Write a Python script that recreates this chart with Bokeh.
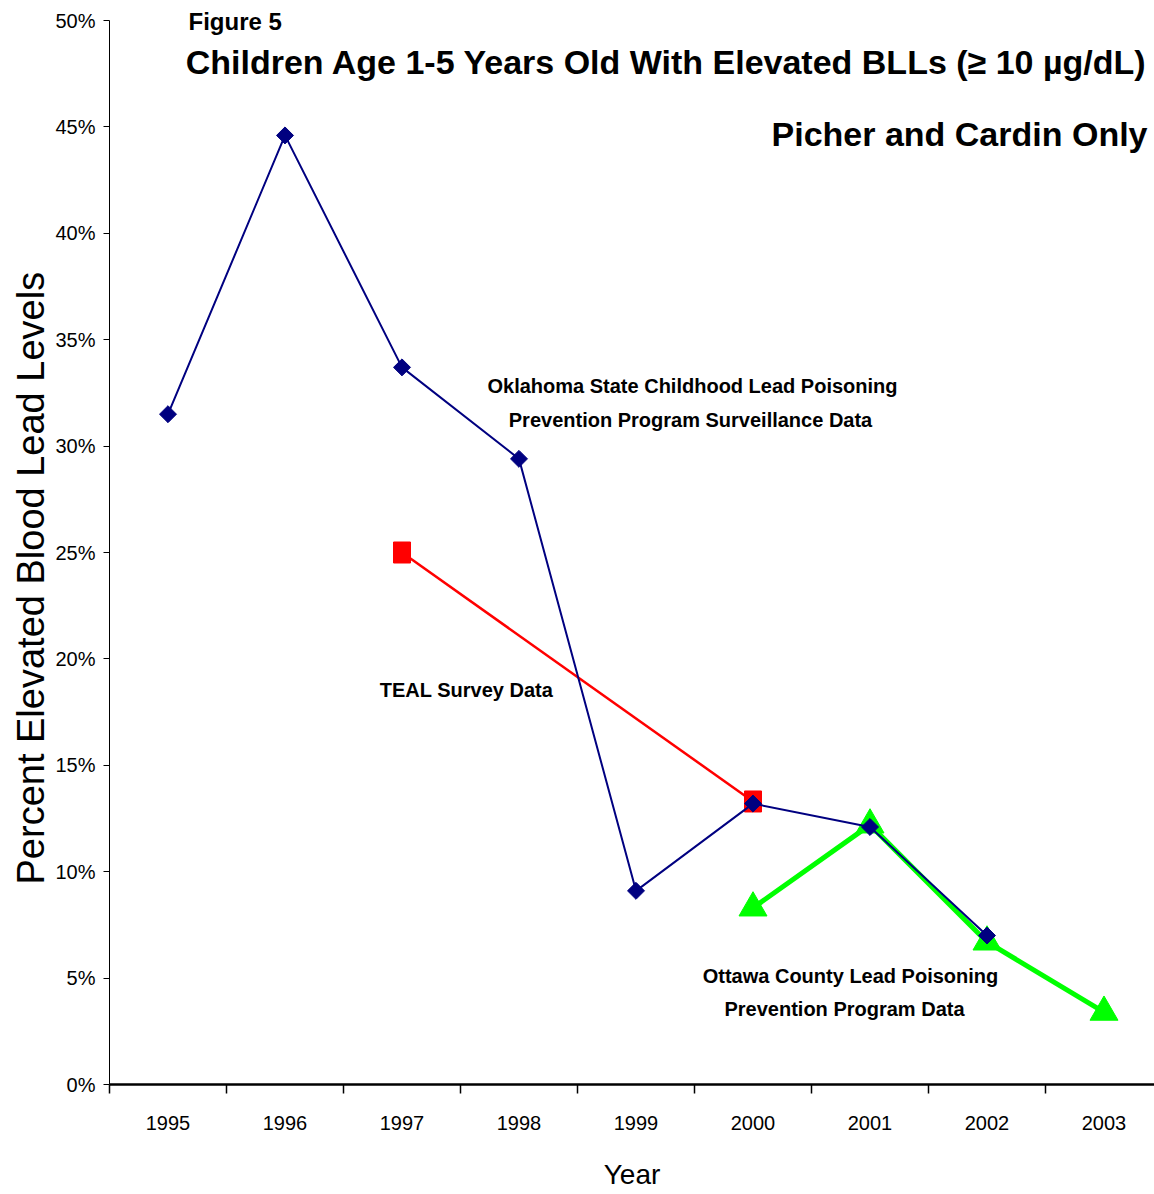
import math
from bokeh.plotting import figure
from bokeh.models import Label, FixedTicker, PrintfTickFormatter, Range1d, Title
from bokeh.embed import file_html
from bokeh.resources import INLINE

# ---- data ----
years = [1995, 1996, 1997, 1998, 1999, 2000, 2001, 2002, 2003]
year_labels = [str(y) for y in years]
osdh_years = [1995, 1996, 1997, 1998, 1999, 2000, 2001, 2002]
osdh_pct = [31.5, 44.6, 33.7, 29.4, 9.1, 13.2, 12.1, 7.0]
teal_years = [1997, 2000]
teal_pct = [25.0, 13.3]
ottawa_years = [2000, 2001, 2002, 2003]
ottawa_pct = [8.3, 12.2, 6.7, 3.4]
y_ticks = [0, 5, 10, 15, 20, 25, 30, 35, 40, 45, 50]

FONT = "'Liberation Sans', Arial, sans-serif"

PX = 117.0            # pixels per year
PY = 1064 / 50.0      # pixels per percent
x0 = years[0] - 0.5
y_top = 50 + 20 / PY
p = figure(frame_width=1045, frame_height=1084, width=1154, height=1194,
           min_border_left=109, min_border_right=0, min_border_top=0, min_border_bottom=110,
           x_range=Range1d(x0, x0 + 1045 / PX), y_range=Range1d(0, y_top),
           output_backend="svg", toolbar_location=None)
p.outline_line_color = None
p.xgrid.visible = False
p.ygrid.visible = False
p.background_fill_color = "white"

# x axis
xa = p.xaxis[0]
xa.ticker = FixedTicker(ticks=years, minor_ticks=[y - 0.5 for y in years] + [years[-1] + 0.5])
xa.major_label_overrides = {y: s for y, s in zip(years, year_labels)}
xa.major_tick_line_color = None
xa.major_tick_out = 9
xa.major_tick_in = 0
xa.minor_tick_out = 9
xa.minor_tick_in = 0
xa.minor_tick_line_color = "black"
xa.minor_tick_line_width = 1.5
xa.axis_line_width = 2.5
xa.axis_line_color = "black"
xa.major_label_text_font = FONT
xa.major_label_text_font_size = "20px"
xa.major_label_text_color = "black"
xa.major_label_standoff = 22
xa.axis_label = "Year"
xa.axis_label_text_font = FONT
xa.axis_label_text_font_size = "28px"
xa.axis_label_text_font_style = "normal"
xa.axis_label_text_color = "black"
xa.axis_label_standoff = 26

# y axis
ya = p.yaxis[0]
ya.ticker = FixedTicker(ticks=y_ticks, minor_ticks=[])
ya.bounds = (0, 50)
ya.formatter = PrintfTickFormatter(format="%d%%")
ya.major_tick_out = 6
ya.major_tick_in = 0
ya.major_tick_line_color = "black"
ya.axis_line_color = "black"
ya.axis_line_width = 1
ya.major_label_text_font = FONT
ya.major_label_text_font_size = "20px"
ya.major_label_text_color = "black"
ya.major_label_standoff = 8

# y axis title as a side title, positioned along the axis
ytitle = Title(text="Percent Elevated Blood Lead Levels", align="left", offset=200,
               text_font=FONT, text_font_size="38px", text_font_style="normal",
               text_color="black", vertical_align="middle", standoff=0)
p.add_layout(ytitle, "left")

# series
p.line(teal_years, teal_pct, line_color="#FF0000", line_width=2.5)
p.rect(teal_years, teal_pct, width=17, height=21, width_units="screen", height_units="screen",
       fill_color="#FF0000", line_color="#FF0000")
p.line(ottawa_years, ottawa_pct, line_color="#00FF00", line_width=5)
p.scatter(ottawa_years, ottawa_pct, marker="triangle", size=28,
          fill_color="#00FF00", line_color="#00FF00")
p.line(osdh_years, osdh_pct, line_color="#000080", line_width=2)
p.scatter(osdh_years, osdh_pct, marker="square", angle=math.pi / 4, size=12,
          fill_color="#000080", line_color="#000080")

def px2x(px):
    return x0 + (px - 109) / PX

def py2y(py):
    return (1084 - py) / PY

def add_label(text, px, py, size, align="center"):
    p.add_layout(Label(x=px2x(px), y=py2y(py), text=text, text_font=FONT,
                       text_font_size=size, text_font_style="bold",
                       text_align=align, text_baseline="middle", text_color="black"))

add_label("Figure 5", 188, 21, "24px", align="left")
add_label("Children Age 1-5 Years Old With Elevated BLLs (\u2265 10 \u00b5g/dL)", 1147, 61, "34px", align="right")
add_label("Picher and Cardin Only", 1147, 133, "34px", align="right")
add_label("Oklahoma State Childhood Lead Poisoning", 692, 385, "20px")
add_label("Prevention Program Surveillance Data", 690, 419, "20px")
add_label("TEAL Survey Data", 466, 689, "20px")
add_label("Ottawa County Lead Poisoning", 850, 975, "20px")
add_label("Prevention Program Data", 844, 1008, "20px")

open("out.html", "w").write(file_html(p, INLINE))
